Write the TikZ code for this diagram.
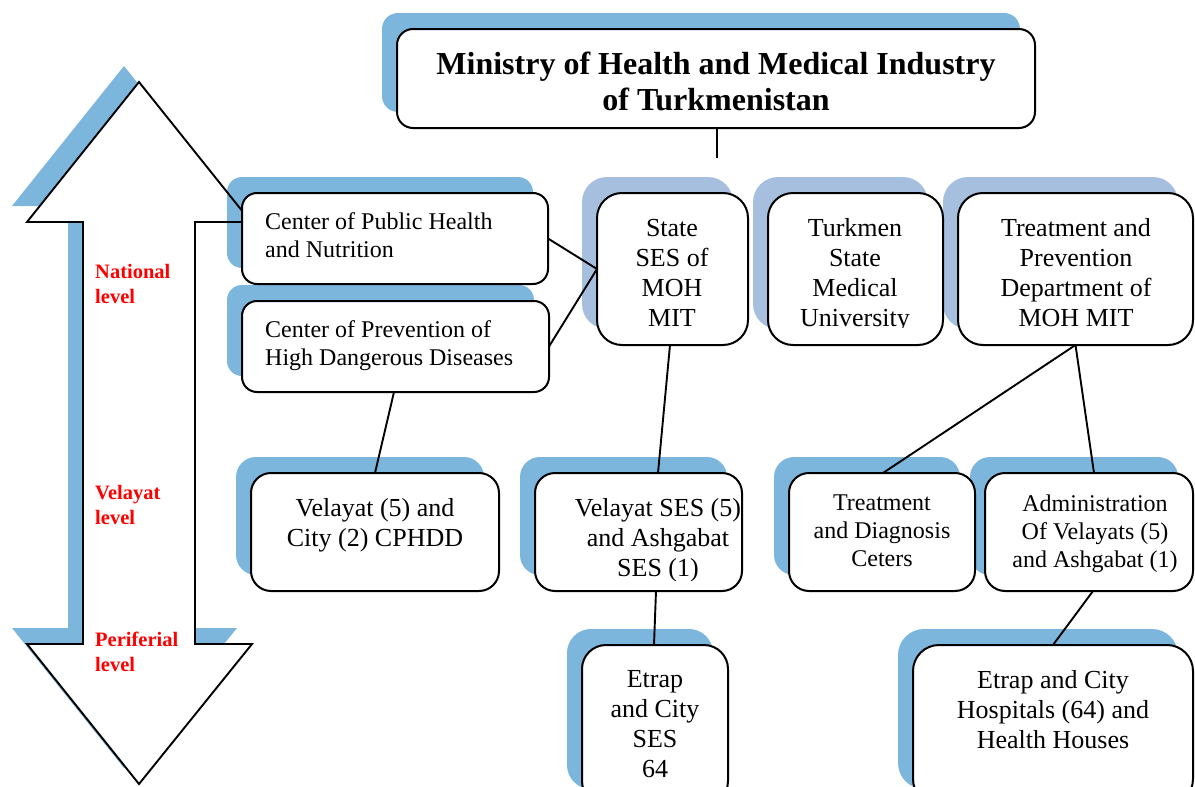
\documentclass[tikz,border=0pt]{standalone}
\usepackage{fontspec}
\setmainfont{Liberation Serif}
\pgfdeclarelayer{arrowbg}
\pgfdeclarelayer{shadows}
\pgfdeclarelayer{lines}
\pgfsetlayers{arrowbg,shadows,lines,main}
\definecolor{shA}{RGB}{125,182,221}
\definecolor{shB}{RGB}{167,191,222}
\tikzset{
  orgbox/.style={draw=black, fill=white, line width=2pt, inner sep=0pt, outer sep=0pt},
  conn/.style={draw=black, line width=1.9pt},
  lvl/.style={text=red, font=\fontsize{20.5}{25}\selectfont\bfseries, align=left, anchor=west, inner sep=0pt},
  tsm/.style={font=\fontsize{24}{28}\selectfont, align=center, inner sep=0pt},
  tmd/.style={font=\fontsize{26}{30}\selectfont, align=center, inner sep=0pt},
  tlf/.style={font=\fontsize{24}{28}\selectfont, align=left, anchor=west, inner sep=0pt},
  ttl/.style={font=\fontsize{32}{36}\selectfont\bfseries, align=center, inner sep=0pt},
  arrowline/.style={draw=black, line width=1.9pt, line join=miter},
}
% name, cx, cy, w, h, radius, shadow colour
\newcommand\mkbox[7]{%
  \node[orgbox, rounded corners=#6, minimum width=#4pt, minimum height=#5pt] (#1) at (#2,#3) {};
  \begin{pgfonlayer}{shadows}
    \fill[#7, rounded corners=#6] ([shift={(-15,-16)}]#1.north west) rectangle ([shift={(-15,-16)}]#1.south east);
  \end{pgfonlayer}}
\begin{document}
\begin{tikzpicture}[x=1pt,y=-1pt]
\useasboundingbox (0,0) rectangle (1195,787);
\clip (0,0) rectangle (1195,787);

% big double arrow
\begin{pgfonlayer}{arrowbg}
  \fill[shA, shift={(-15,-16)}] (139,82) -- (251,222) -- (195,222) -- (195,644) -- (252,644) -- (139,784) -- (27,644) -- (83,644) -- (83,222) -- (27,222) -- cycle;
  \fill[white] (139,82) -- (251,222) -- (195,222) -- (195,644) -- (252,644) -- (139,784) -- (27,644) -- (83,644) -- (83,222) -- (27,222) -- cycle;
\end{pgfonlayer}
\begin{pgfonlayer}{lines}
  \draw[arrowline] (139,82) -- (251,222) -- (195,222) -- (195,644) -- (252,644) -- (139,784) -- (27,644) -- (83,644) -- (83,222) -- (27,222) -- cycle;
\end{pgfonlayer}

% level labels
\node[lvl] (lnat) at (95,283.5) {National\\level};
\node[lvl] (lvel) at (95,504.5) {Velayat\\level};
\node[lvl] (lper) at (95,652) {Periferial\\level};

% boxes
\mkbox{min}{716}{78.5}{638}{99}{16pt}{shA}
\mkbox{ph}{395}{238.5}{306}{91}{15pt}{shA}
\mkbox{cp}{395.5}{346.5}{307}{91}{15pt}{shA}
\mkbox{ses}{672.5}{269}{151}{152}{25pt}{shB}
\mkbox{tu}{855.5}{269}{175}{152}{25pt}{shB}
\mkbox{tp}{1075.5}{269}{235}{152}{25pt}{shB}
\mkbox{vc}{375}{532}{248}{118}{20pt}{shA}
\mkbox{vses}{638.5}{532}{207}{118}{20pt}{shA}
\mkbox{td}{882}{532}{186}{118}{20pt}{shA}
\mkbox{adm}{1089}{532}{208}{118}{20pt}{shA}
\mkbox{es}{655}{725}{146}{160}{24pt}{shA}
\mkbox{hosp}{1053}{725}{280}{160}{26pt}{shA}

% texts
\node[ttl] (tmin) at (716,81) {Ministry of Health and Medical Industry\\of Turkmenistan};
\node[tlf] (tph) at (265,235) {Center of Public Health\\and Nutrition};
\node[tlf] (tcp) at (265,345.5) {Center of Prevention of\\High Dangerous Diseases};
\node[tmd] (tses) at (672,272.5) {State\\SES of\\MOH\\MIT};
\begin{scope}
  \clip (760,190) rectangle (950,327);
  \node[tmd] (ttu) at (855,275.5) {Turkmen\\State\\Medical\\University};
\end{scope}
\node[tmd] (ttp) at (1076,272.5) {Treatment and\\Prevention\\Department of\\MOH MIT};
\node[tmd] (tvc) at (375,525) {Velayat (5) and\\City (2) CPHDD};
\begin{scope}
  \clip (530,470) rectangle (745,580);
  \node[tmd] (tvses) at (658,540) {Velayat SES (5)\\and Ashgabat\\SES (1)};
\end{scope}
\node[tsm] (ttd) at (882,531) {Treatment\\and Diagnosis\\Ceters};
\node[tsm] (tadm) at (1095,533.5) {Administration\\Of Velayats (5)\\and Ashgabat (1)};
\node[tmd] (tes) at (655,724) {Etrap\\and City\\SES\\64};
\node[tmd] (thosp) at (1053,709.5) {Etrap and City\\Hospitals (64) and\\Health Houses};

% connectors
\coordinate (minstub) at (717,158);
\begin{pgfonlayer}{lines}
  \draw[conn] ([xshift=1pt]min.south) -- (minstub);
  \draw[conn] (ph.east) -- (ses.west);
  \draw[conn] (cp.east) -- (ses.west);
  \draw[conn] ([xshift=-1.5pt]cp.south) -- (vc.north);
  \draw[conn] ([xshift=-2.5pt]ses.south) -- ([xshift=19.5pt]vses.north);
  \draw[conn] ([xshift=17.5pt]vses.south) -- ([xshift=-1pt]es.north);
  \draw[conn] (tp.south) -- ([xshift=1pt]td.north);
  \draw[conn] (tp.south) -- ([xshift=5pt]adm.north);
  \draw[conn] ([xshift=4pt]adm.south) -- (hosp.north);
\end{pgfonlayer}
\end{tikzpicture}
\end{document}
